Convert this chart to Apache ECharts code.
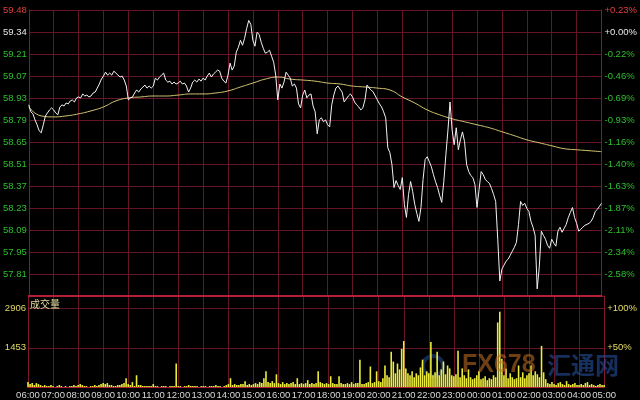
<!DOCTYPE html>
<html><head><meta charset="utf-8">
<script src="https://cdn.jsdelivr.net/npm/echarts@6/dist/echarts.min.js"></script>
<style>html,body{margin:0;padding:0;background:#000;}#c{width:640px;height:400px;}</style>
</head><body><div id="c"></div>
<script>
// ---- data ----
const hourLabels = ['06:00','07:00','08:00','09:00','10:00','11:00','12:00','13:00','14:00','15:00','16:00','17:00','18:00','19:00','20:00','21:00','22:00','23:00','00:00','01:00','02:00','03:00','04:00','05:00'];
// price axis grid rows, bottom (index 0) to top (index 13)
const priceTickLabels = ['', '57.81', '57.95', '58.09', '58.23', '58.37', '58.51', '58.65', '58.79', '58.93', '59.07', '59.21', '59.34', '59.48'];
const pctTickLabels = ['', '-2.58%', '-2.34%', '-2.11%', '-1.87%', '-1.63%', '-1.40%', '-1.16%', '-0.93%', '-0.69%', '-0.46%', '-0.22%', '+0.00%', '+0.23%'];
const priceMin = 57.671, priceMax = 59.48;
const volTickValues = [1453, 2906];
const volTickLabels = ['1453', '2906'];
const volPctLabels = ['+50%', '+100%'];
const volMax = 3378;
const priceStepMin = 5;   // minutes between price samples
const maStepMin = 30;     // minutes between MA samples
const volStepMin = 5;

const priceValues = [
58.880,58.836,58.823,58.785,58.754,58.716,58.703,58.754,58.810,58.829,58.848,58.861,
58.848,58.829,58.817,58.867,58.880,58.873,58.892,58.886,58.905,58.911,58.898,58.924,
58.930,58.924,58.949,58.936,58.942,58.930,58.936,58.955,58.961,58.986,59.012,59.043,
59.062,59.087,59.068,59.081,59.068,59.093,59.081,59.068,59.056,59.062,59.037,58.999,
58.911,58.924,58.930,58.955,58.974,58.961,58.980,58.993,59.005,58.986,58.999,58.986,
58.999,59.049,59.037,59.056,59.068,59.081,59.037,59.024,59.030,59.012,59.024,59.012,
59.018,59.030,59.012,59.018,58.999,58.961,58.986,59.024,59.037,59.024,59.043,59.030,
59.049,59.037,59.062,59.081,59.056,59.075,59.087,59.100,59.093,59.049,59.030,59.018,
59.068,59.144,59.100,59.125,59.213,59.244,59.288,59.257,59.301,59.364,59.414,59.389,
59.288,59.251,59.339,59.326,59.276,59.238,59.207,59.213,59.226,59.188,59.150,59.068,
58.911,59.012,58.986,59.024,59.087,59.068,59.049,58.999,59.012,58.986,58.886,58.861,
58.942,58.974,58.924,58.942,58.949,58.873,58.836,58.697,58.785,58.798,58.773,58.785,
58.754,58.741,58.880,58.942,58.986,58.999,58.980,58.961,58.898,58.917,58.936,58.949,
58.930,58.898,58.880,58.867,58.848,58.861,58.911,59.005,58.986,58.974,58.961,58.936,
58.911,58.886,58.867,58.836,58.798,58.609,58.578,58.502,58.357,58.401,58.370,58.345,
58.420,58.250,58.168,58.313,58.395,58.332,58.250,58.194,58.143,58.231,58.408,58.534,
58.552,58.521,58.489,58.439,58.395,58.357,58.307,58.263,58.395,58.565,58.722,58.898,
58.722,58.628,58.735,58.596,58.659,58.709,58.647,58.502,58.458,58.433,58.420,58.376,
58.231,58.345,58.458,58.439,58.408,58.395,58.383,58.351,58.313,58.269,58.030,57.766,
57.841,57.866,57.891,57.904,57.929,57.954,57.979,58.011,58.124,58.269,58.244,58.257,
58.225,58.206,58.143,58.106,58.055,57.716,57.854,58.081,58.055,58.030,57.992,57.973,
58.030,58.005,57.986,58.081,58.106,58.074,58.099,58.124,58.168,58.200,58.231,58.168,
58.131,58.081,58.093,58.106,58.118,58.124,58.131,58.143,58.168,58.206,58.219,58.238,58.257
];

const maValues = [
58.867,58.810,58.804,58.810,58.823,58.842,58.867,58.905,58.924,58.930,58.936,58.936,
58.942,58.949,58.949,58.955,58.968,58.993,59.018,59.043,59.056,59.043,59.037,59.030,
59.018,59.012,58.999,58.993,58.986,58.974,58.930,58.892,58.848,58.817,58.792,58.773,
58.754,58.735,58.710,58.685,58.659,58.640,58.621,58.603,58.596,58.590,58.584
];

const volValues = [
182,109,145,73,145,109,73,36,73,36,36,73,
36,0,36,73,36,0,36,0,36,36,73,36,
73,109,73,36,36,0,36,36,73,36,73,109,
145,109,145,73,73,36,36,73,73,109,145,327,
109,73,182,36,436,73,73,36,36,36,36,36,
109,36,36,0,36,36,36,0,36,36,36,871,
36,36,0,36,36,73,36,36,36,36,0,36,
36,36,0,36,36,36,73,36,36,0,36,73,
109,327,73,109,73,73,109,109,218,73,109,73,
109,145,109,182,145,327,581,182,145,218,145,472,
145,109,182,109,145,109,145,182,109,327,109,145,
109,145,254,109,145,109,145,581,182,145,109,145,
109,399,145,109,109,399,145,109,109,145,109,182,
109,145,145,1016,109,109,145,182,762,145,182,581,
218,182,327,799,436,363,1307,944,508,871,653,1416,
1706,690,508,436,581,363,508,436,726,1016,436,581,
508,1670,436,545,1307,436,653,944,472,799,690,436,
399,472,1343,363,690,436,327,653,363,290,327,436,
581,290,327,399,254,327,290,436,363,2396,2795,1053,
436,690,327,508,363,290,327,799,363,545,327,436,
508,799,436,581,472,363,1525,545,290,145,109,182,
109,73,145,182,109,73,218,109,73,109,145,73,
73,109,73,145,182,73,109,73,36,73,109,73,73
];

// ---- chart ----
const gridColor = '#661428';
const edgeColor = '#80192e';
const sepColor = '#b41e36';
const green = '#2fbf2f', red = '#e04040', white = '#e6e6e6', yellow = '#e2da6a';
const fontFam = 'Arial, "Liberation Sans", sans-serif';
const fs = 9.5;

const chart = echarts.init(document.getElementById('c'), null, {renderer: 'canvas'});
const xMax = (hourLabels.length - 1) * 60;

const xBase = {
  type: 'value', min: 0, max: xMax, interval: 60,
  axisTick: {show: false},
  splitLine: {show: true, lineStyle: {color: gridColor, width: 1}}
};

chart.setOption({
  backgroundColor: '#000',
  animation: false,
  grid: [
    {left: 28, right: 35, top: 10, height: 286},
    {left: 28, right: 35, top: 296, height: 93}
  ],
  xAxis: [
    Object.assign({}, xBase, {gridIndex: 0,
      axisLine: {show: true, lineStyle: {color: sepColor, width: 2}},
      axisLabel: {show: false}}),
    Object.assign({}, xBase, {gridIndex: 1,
      axisLine: {show: true, lineStyle: {color: sepColor, width: 1}},
      axisLabel: {show: true, color: '#d8d8d8', fontSize: fs, fontFamily: fontFam, margin: 3,
        formatter: v => hourLabels[Math.round(v / 60)] || ''}})
  ],
  yAxis: [
    // 0: hidden price scale
    {type: 'value', gridIndex: 0, min: priceMin, max: priceMax, show: false},
    // 1: left price labels / horizontal grid
    {type: 'value', gridIndex: 0, min: 0, max: 13, interval: 1, position: 'left',
      axisLine: {show: true, lineStyle: {color: edgeColor}}, axisTick: {show: false},
      splitLine: {show: true, lineStyle: {color: gridColor}},
      axisLabel: {margin: 2, fontSize: fs, fontFamily: fontFam,
        formatter: v => priceTickLabels[Math.round(v)] || '',
        color: v => { const i = Math.round(v); return i === 13 ? red : (i === 12 ? white : green); }}},
    // 2: right percent labels
    {type: 'value', gridIndex: 0, min: 0, max: 13, interval: 1, position: 'right',
      axisLine: {show: true, lineStyle: {color: edgeColor}}, axisTick: {show: false},
      splitLine: {show: false},
      axisLabel: {margin: 3, fontSize: fs, fontFamily: fontFam,
        formatter: v => pctTickLabels[Math.round(v)] || '',
        color: v => { const i = Math.round(v); return i === 13 ? red : (i === 12 ? white : green); }}},
    // 3: volume left
    {type: 'value', gridIndex: 1, min: 0, max: volMax, interval: 1453, position: 'left',
      axisLine: {show: true, lineStyle: {color: edgeColor}}, axisTick: {show: false},
      splitLine: {show: true, lineStyle: {color: gridColor}},
      axisLabel: {margin: 2, fontSize: fs, fontFamily: fontFam, color: yellow,
        formatter: v => { const i = volTickValues.indexOf(v); return i >= 0 ? volTickLabels[i] : ''; }}},
    // 4: volume right
    {type: 'value', gridIndex: 1, min: 0, max: volMax, interval: 1453, position: 'right',
      axisLine: {show: true, lineStyle: {color: edgeColor}}, axisTick: {show: false},
      splitLine: {show: false},
      axisLabel: {margin: 3, fontSize: fs, fontFamily: fontFam, color: yellow,
        formatter: v => { const i = volTickValues.indexOf(v); return i >= 0 ? volPctLabels[i] : ''; }}}
  ],
  series: [
    {type: 'line', xAxisIndex: 0, yAxisIndex: 0, symbol: 'none', z: 4,
      lineStyle: {color: '#f2f2f2', width: 1},
      data: priceValues.map((v, i) => [i * priceStepMin, v])},
    {type: 'line', xAxisIndex: 0, yAxisIndex: 0, symbol: 'none', smooth: true, z: 3,
      lineStyle: {color: '#d6c874', width: 1},
      data: maValues.map((v, i) => [i * maStepMin, v])},
    {type: 'bar', xAxisIndex: 1, yAxisIndex: 3, barWidth: 1.6, z: 3,
      itemStyle: {color: '#ecec3a'},
      data: volValues.map((v, i) => [i * volStepMin, v])}
  ],
  graphic: [
    {type: 'text', left: 30, top: 299, z: 10,
      style: {text: '成交量', fill: '#e6dca0', font: '10px "Noto Sans CJK SC", sans-serif'}},
    {type: 'circle', shape: {cx: 433, cy: 366, r: 10}, z: 1,
      style: {fill: 'none', stroke: 'rgba(40,80,170,0.5)', lineWidth: 4}},
    {type: 'text', left: 462, top: 353, z: 6,
      style: {text: 'FX678', fill: 'rgba(200,115,35,0.55)', font: 'bold 25px "Liberation Sans", Arial, sans-serif'}},
    {type: 'text', left: 547, top: 353, z: 6,
      style: {text: '汇通网', fill: 'rgba(40,85,170,0.55)', font: 'bold 24px "Noto Sans CJK SC", sans-serif'}}
  ]
});
</script>
</body></html>
